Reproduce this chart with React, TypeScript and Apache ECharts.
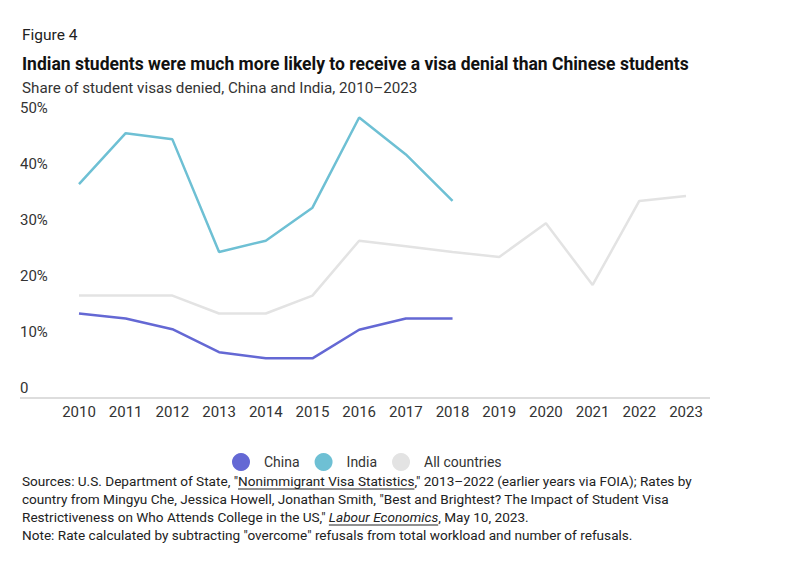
import React, { useEffect, useRef } from "react";
import * as echarts from "echarts";

const years = ["2010", "2011", "2012", "2013", "2014", "2015", "2016", "2017", "2018", "2019", "2020", "2021", "2022", "2023"];
const china = [13.3, 12.4, 10.5, 6.4, 5.3, 5.3, 10.4, 12.4, 12.4, null, null, null, null, null];
const india = [36.4, 45.5, 44.4, 24.3, 26.3, 32.2, 48.3, 41.7, 33.4, null, null, null, null, null];
const allCountries = [16.5, 16.5, 16.5, 13.3, 13.3, 16.5, 26.3, 25.3, 24.3, 23.4, 29.4, 18.4, 33.4, 34.3];
const seriesNames = ["China", "India", "All countries"];
const seriesColors = ["#6468d4", "#6ec0d4", "#e3e3e3"];

const FONT = "Roboto, 'Liberation Sans', sans-serif";
const figureLabel = "Figure 4";
const titleText = "Indian students were much more likely to receive a visa denial than Chinese students";
const subtitleText = "Share of student visas denied, China and India, 2010–2023";
const src1a = "Sources: U.S. Department of State, \"";
const src1b = "Nonimmigrant Visa Statistics";
const src1c = ",\" 2013–2022 (earlier years via FOIA); Rates by";
const src2 = "country from Mingyu Che, Jessica Howell, Jonathan Smith, \"Best and Brightest? The Impact of Student Visa";
const src3a = "Restrictiveness on Who Attends College in the US,\" ";
const src3b = "Labour Economics";
const src3c = ", May 10, 2023.";
const noteText = "Note: Rate calculated by subtracting \"overcome\" refusals from total workload and number of refusals.";

function measure(text: string, font: string): number {
  const c = document.createElement("canvas");
  const ctx = c.getContext("2d");
  if (!ctx) return text.length * 6;
  ctx.font = font;
  return ctx.measureText(text).width;
}

export default function App() {
  const ref = useRef<HTMLDivElement>(null);
  useEffect(() => {
    if (!ref.current) return;
    const chart = echarts.init(ref.current, null, { renderer: "svg" });
    const footSize = 13.6;
    const footFont = footSize + "px " + FONT;
    const footItalic = "italic " + footSize + "px " + FONT;
    const x0 = 22;
    const u1x = x0 + measure(src1a, footFont);
    const u1w = measure(src1b, footFont);
    const u2x = x0 + measure(src3a, footFont);
    const u2w = measure(src3b, footItalic);
    const textEl = (text: string, y: number, font: string, fill = "#222", extra: any = {}) => ({
      type: "text",
      x: x0,
      y,
      silent: true,
      style: { text, font, fill, align: "left", verticalAlign: "middle", textAlign: "left", textVerticalAlign: "middle", ...extra },
    });
    chart.setOption({
      animation: false,
      grid: { left: 79, right: 114, top: 108, bottom: 185, containLabel: false },
      xAxis: {
        type: "category",
        data: years,
        boundaryGap: false,
        axisLine: { show: false },
        axisTick: { show: false },
        axisLabel: { margin: 16, fontSize: 15, color: "#333", fontFamily: FONT },
        splitLine: { show: false },
      },
      yAxis: {
        type: "value",
        min: 0,
        max: 50,
        interval: 10,
        axisLine: { show: false },
        axisTick: { show: false },
        splitLine: { show: false },
        axisLabel: {
          align: "left",
          margin: 59,
          fontSize: 15,
          color: "#333",
          fontFamily: FONT,
          formatter: (v: number) => (v === 0 ? "0" : v + "%"),
        },
      },
      legend: {
        left: 227,
        top: 448,
        itemWidth: 18,
        itemHeight: 18,
        itemGap: 15,
        icon: "circle",
        data: seriesNames,
        textStyle: { fontSize: 14, color: "#333", fontFamily: FONT, padding: [0, 0, 0, 9] },
      },
      series: [
        { name: seriesNames[2], type: "line", data: allCountries, color: seriesColors[2], symbol: "none", lineStyle: { width: 2.5, color: seriesColors[2] }, z: 1 },
        { name: seriesNames[0], type: "line", data: china, color: seriesColors[0], symbol: "none", lineStyle: { width: 2.5, color: seriesColors[0] }, z: 3 },
        { name: seriesNames[1], type: "line", data: india, color: seriesColors[1], symbol: "none", lineStyle: { width: 2.5, color: seriesColors[1] }, z: 3 },
      ],
      graphic: [
        { type: "line", silent: true, shape: { x1: 20, y1: 398, x2: 710, y2: 398 }, style: { stroke: "#dddddd", lineWidth: 2 } },
        textEl(figureLabel, 35, "15.5px " + FONT, "#222"),
        textEl(titleText, 64, "bold 17.5px " + FONT, "#111"),
        textEl(subtitleText, 88, "15.2px " + FONT, "#333"),
        {
          type: "text",
          x: x0,
          y: 481,
          silent: true,
          style: {
            text: src1a + "{u|" + src1b + "}" + src1c,
            font: footFont,
            fill: "#222",
            verticalAlign: "middle",
            textVerticalAlign: "middle",
            rich: { u: { font: footFont, fill: "#222" } },
          },
        },
        textEl(src2, 499, footFont),
        {
          type: "text",
          x: x0,
          y: 517,
          silent: true,
          style: {
            text: src3a + "{i|" + src3b + "}" + src3c,
            font: footFont,
            fill: "#222",
            verticalAlign: "middle",
            textVerticalAlign: "middle",
            rich: { i: { fontStyle: "italic", fontSize: footSize, fontFamily: FONT, fill: "#222" } },
          },
        },
        textEl(noteText, 535, footFont),
        { type: "line", silent: true, shape: { x1: u1x, y1: 489, x2: u1x + u1w, y2: 489 }, style: { stroke: "#222", lineWidth: 1 } },
        { type: "line", silent: true, shape: { x1: u2x, y1: 525, x2: u2x + u2w, y2: 525 }, style: { stroke: "#222", lineWidth: 1 } },
      ],
    });
    return () => chart.dispose();
  }, []);
  return <div ref={ref} style={{ width: 800, height: 573, position: "absolute", left: 0, top: 0 }} />;
}
